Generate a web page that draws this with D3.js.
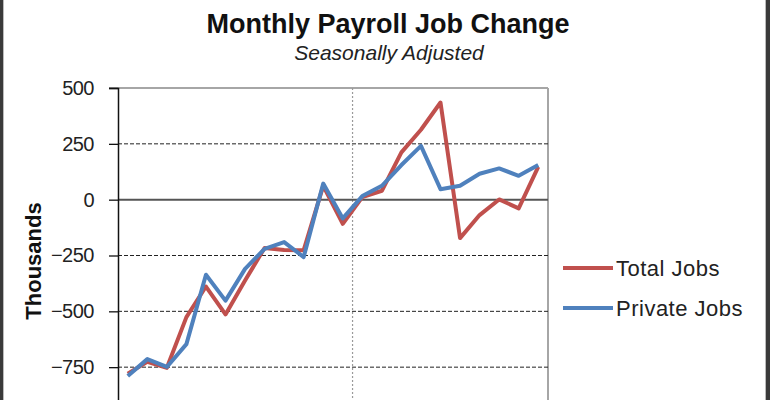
<!DOCTYPE html>
<html>
<head>
<meta charset="utf-8">
<script src="https://cdn.jsdelivr.net/npm/d3@7"></script>
<style>
  html, body { margin: 0; padding: 0; background: #fff; }
  svg { display: block; font-family: "Liberation Sans", Arial, sans-serif; }
</style>
</head>
<body>
<svg id="chart" width="770" height="400"></svg>
<script>
// ---- data ----
const months = ["Jan-09","Feb-09","Mar-09","Apr-09","May-09","Jun-09","Jul-09","Aug-09","Sep-09","Oct-09","Nov-09","Dec-09",
                "Jan-10","Feb-10","Mar-10","Apr-10","May-10","Jun-10","Jul-10","Aug-10","Sep-10","Oct-10"];
const totalJobs   = [-779,-726,-753,-526,-389,-514,-362,-216,-225,-226, 62,-108, 12, 40, 212, 313, 435,-172,-69,  1,-39, 147];
const privateJobs = [-790,-714,-749,-647,-336,-452,-310,-220,-190,-257, 72, -84, 16, 62, 155, 241,  47,  62,116,140,107, 155];
const yTicks = [500, 250, 0, -250, -500, -750];
const seriesNames = ["Total Jobs", "Private Jobs"];
const seriesColors = ["#c0504d", "#4f81bd"];

const svg = d3.select("#chart");
const plotLeft = 118, plotRight = 548, plotTop = 88, plotBottom = 423;

const x = d3.scaleBand().domain(months).range([plotLeft, plotRight]);
const y = d3.scaleLinear().domain([-1000, 500]).range([plotBottom, plotTop]);

// frame edges
svg.append("rect").attr("x", 0).attr("y", 0).attr("width", 3).attr("height", 400).attr("fill", "#3a3a3a");
svg.append("rect").attr("x", 3).attr("y", 0).attr("width", 1).attr("height", 400).attr("fill", "#bbb");
svg.append("rect").attr("x", 766).attr("y", 0).attr("width", 4).attr("height", 400).attr("fill", "#3a3a3a");
svg.append("rect").attr("x", 765).attr("y", 0).attr("width", 1).attr("height", 400).attr("fill", "#bbb");

// plot border (top/right)
svg.append("line").attr("x1", plotLeft - 9).attr("x2", plotRight).attr("y1", y(500)).attr("y2", y(500))
  .attr("stroke", "#a6a6a6").attr("stroke-width", 2);
svg.append("line").attr("x1", plotRight).attr("x2", plotRight).attr("y1", y(500)).attr("y2", plotBottom)
  .attr("stroke", "#a6a6a6").attr("stroke-width", 2);

// gridlines
yTicks.filter(v => v !== 500 && v !== 0).forEach(v => {
  svg.append("line").attr("x1", plotLeft).attr("x2", plotRight).attr("y1", y(v)).attr("y2", y(v))
    .attr("stroke", "#222").attr("stroke-width", 1).attr("stroke-dasharray", "4,2");
});

// vertical year divider
svg.append("line")
  .attr("x1", x("Jan-10")).attr("x2", x("Jan-10"))
  .attr("y1", y(500)).attr("y2", plotBottom)
  .attr("stroke", "#9a9a9a").attr("stroke-width", 1.2).attr("stroke-dasharray", "2,2");

// zero line
svg.append("line").attr("x1", plotLeft).attr("x2", plotRight).attr("y1", y(0)).attr("y2", y(0))
  .attr("stroke", "#555").attr("stroke-width", 2);

// y axis
const yAxis = d3.axisLeft(y).tickValues(yTicks).tickSize(9).tickPadding(15).tickFormat(d3.format("d"));
const gy = svg.append("g").attr("transform", `translate(${plotLeft},0)`).call(yAxis);
gy.select(".domain").attr("stroke", "#111").attr("stroke-width", 1.5);
gy.selectAll(".tick line").attr("stroke", "#111").attr("stroke-width", 1.3);
gy.selectAll(".tick text").attr("font-size", 20).attr("fill", "#222")
  .attr("font-family", "'Liberation Sans', Arial, sans-serif").attr("letter-spacing", "-0.5");

// x axis (below the visible area; its labels are not shown in the reference)
const xAxis = d3.axisBottom(x).tickSize(5).tickFormat("");
const gx = svg.append("g").attr("transform", `translate(0,${plotBottom})`).call(xAxis);
gx.select(".domain").attr("stroke", "#111");
gx.selectAll(".tick text").remove();

// lines
const line = d3.line().x(d => x(d.m) + x.bandwidth() / 2).y(d => y(d.v));
[totalJobs, privateJobs].forEach((arr, i) => {
  svg.append("path")
    .datum(arr.map((v, j) => ({ m: months[j], v })))
    .attr("fill", "none")
    .attr("stroke", seriesColors[i])
    .attr("stroke-width", 4)
    .attr("stroke-linejoin", "round")
    .attr("d", line);
});

// titles
svg.append("text").attr("x", 388).attr("y", 33).attr("text-anchor", "middle")
  .attr("font-size", 27).attr("font-weight", "bold").attr("fill", "#111")
  .text("Monthly Payroll Job Change");
svg.append("text").attr("x", 389).attr("y", 60).attr("text-anchor", "middle")
  .attr("font-size", 21).attr("font-style", "italic").attr("fill", "#222")
  .text("Seasonally Adjusted");

// y label
svg.append("text").attr("transform", "translate(41,261) rotate(-90)").attr("text-anchor", "middle")
  .attr("font-size", 22).attr("font-weight", "bold").attr("fill", "#111")
  .text("Thousands");

// legend
const legendY = [268, 308];
seriesNames.forEach((name, i) => {
  svg.append("line").attr("x1", 563).attr("x2", 613).attr("y1", legendY[i]).attr("y2", legendY[i])
    .attr("stroke", seriesColors[i]).attr("stroke-width", 4);
  svg.append("text").attr("x", 616).attr("y", legendY[i] + 8)
    .attr("font-size", 22).attr("fill", "#222").attr("letter-spacing", "0.5")
    .text(name);
});
</script>
</body>
</html>
